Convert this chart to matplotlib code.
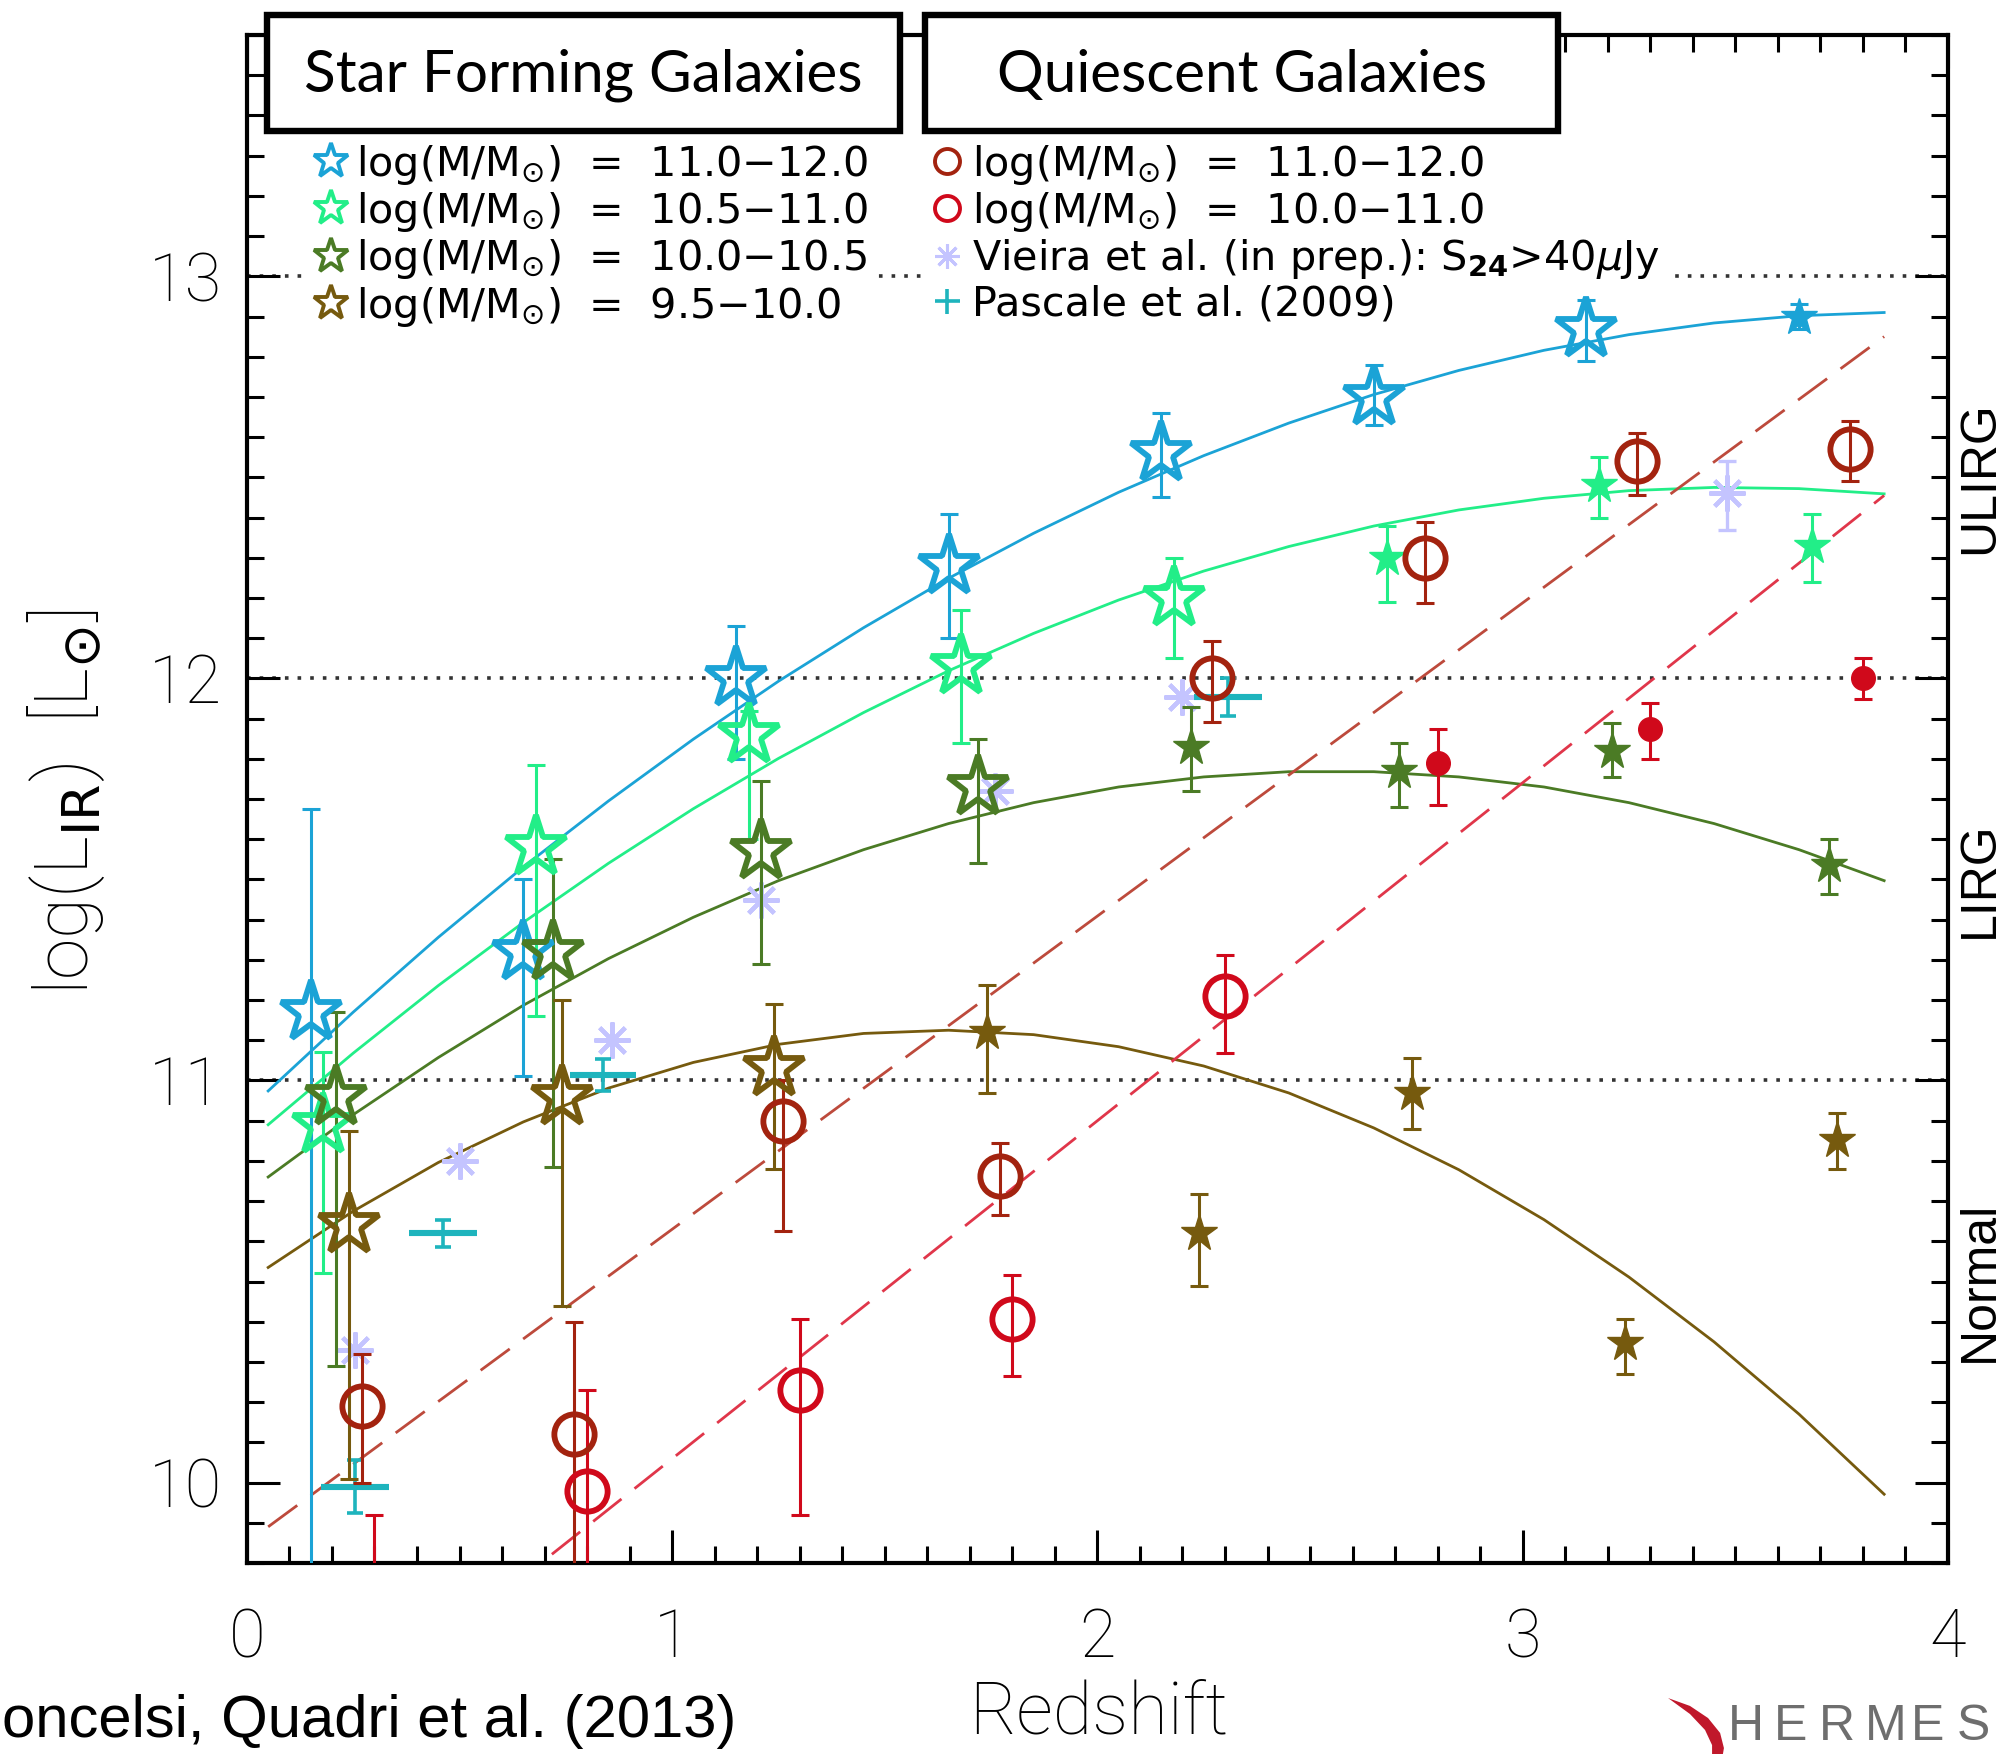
import numpy as np
import matplotlib
matplotlib.use("Agg")
import matplotlib.pyplot as plt
from matplotlib.lines import Line2D
from matplotlib.patches import Rectangle, Polygon
from matplotlib.transforms import blended_transform_factory

# Data
## Star forming, log(M/Msun) = 11.0-12.0
z_sf_a = [0.15, 0.65, 1.15, 1.65, 2.15, 2.65, 3.15, 3.65]
l_sf_a = [11.17, 11.32, 12.00, 12.28, 12.56, 12.70, 12.87, 12.90]
lo_sf_a = [9.00, 11.01, 11.80, 12.10, 12.45, 12.63, 12.79, 12.87]
hi_sf_a = [11.675, 11.50, 12.13, 12.41, 12.66, 12.78, 12.94, 12.93]
## Star forming, 10.5-11.0
z_sf_b = [0.18, 0.68, 1.18, 1.68, 2.18, 2.68, 3.18, 3.68]
l_sf_b = [10.89, 11.58, 11.86, 12.03, 12.20, 12.30, 12.48, 12.33]
lo_sf_b = [10.52, 11.16, 11.60, 11.84, 12.05, 12.19, 12.40, 12.24]
hi_sf_b = [11.07, 11.785, 11.92, 12.17, 12.30, 12.38, 12.55, 12.41]
## Star forming, 10.0-10.5
z_sf_c = [0.21, 0.72, 1.21, 1.72, 2.22, 2.71, 3.21, 3.72]
l_sf_c = [10.96, 11.32, 11.57, 11.73, 11.83, 11.77, 11.82, 11.535]
lo_sf_c = [10.29, 10.785, 11.29, 11.54, 11.72, 11.68, 11.756, 11.465]
hi_sf_c = [11.17, 11.55, 11.744, 11.85, 11.93, 11.84, 11.89, 11.60]
## Star forming, 9.5-10.0
z_sf_d = [0.24, 0.74, 1.24, 1.74, 2.24, 2.74, 3.24, 3.74]
l_sf_d = [10.64, 10.96, 11.03, 11.12, 10.62, 10.97, 10.347, 10.853]
lo_sf_d = [10.01, 10.44, 10.78, 10.97, 10.49, 10.88, 10.27, 10.78]
hi_sf_d = [10.875, 11.20, 11.19, 11.237, 10.717, 11.055, 10.408, 10.92]
## Quiescent, 11.0-12.0
z_q_a = [0.27, 0.77, 1.26, 1.77, 2.27, 2.77, 3.27, 3.77]
l_q_a = [10.19, 10.12, 10.90, 10.763, 12.00, 12.30, 12.54, 12.57]
lo_q_a = [10.00, 9.50, 10.625, 10.666, 11.892, 12.187, 12.455, 12.49]
hi_q_a = [10.32, 10.40, 11.00, 10.845, 12.092, 12.39, 12.61, 12.64]
## Quiescent, 10.0-11.0
z_q_b = [0.30, 0.80, 1.30, 1.80, 2.30, 2.80, 3.30, 3.80]
l_q_b = [9.55, 9.98, 10.23, 10.408, 11.21, 11.79, 11.875, 12.00]
lo_q_b = [9.20, 9.50, 9.92, 10.266, 11.069, 11.684, 11.80, 11.95]
hi_q_b = [9.92, 10.23, 10.408, 10.517, 11.313, 11.875, 11.94, 12.05]
## Vieira et al. (in prep.)
z_vieira = [0.255, 0.50, 0.858, 1.21, 1.76, 2.20, 3.48]
l_vieira = [10.33, 10.80, 11.10, 11.45, 11.72, 11.955, 12.46]
lo_vieira = [10.33, 10.80, 11.10, 11.45, 11.72, 11.955, 12.37]
hi_vieira = [10.33, 10.80, 11.10, 11.45, 11.72, 11.955, 12.54]
## Pascale et al. (2009)
z_pascale = [0.255, 0.46, 0.838, 2.308]
zerr_pascale = [0.08, 0.08, 0.078, 0.08]
l_pascale = [9.99, 10.62, 11.014, 11.953]
lerr_pascale = [0.065, 0.034, 0.04, 0.047]

## Fitted curves
z_fit = [0.05, 0.25, 0.45, 0.65, 0.85, 1.05, 1.25, 1.45, 1.65, 1.85,
         2.05, 2.25, 2.45, 2.65, 2.85, 3.05, 3.25, 3.45, 3.65, 3.85]
fit_sf_a = [10.974, 11.170, 11.356, 11.531, 11.695, 11.849, 11.993, 12.126, 12.249, 12.361,
            12.463, 12.554, 12.635, 12.706, 12.766, 12.816, 12.855, 12.884, 12.902, 12.910]
fit_sf_b = [10.890, 11.068, 11.236, 11.393, 11.540, 11.676, 11.801, 11.915, 12.019, 12.112,
            12.195, 12.267, 12.328, 12.379, 12.419, 12.448, 12.467, 12.475, 12.472, 12.459]
fit_sf_c = [10.760, 10.915, 11.057, 11.187, 11.303, 11.406, 11.497, 11.574, 11.639, 11.691,
            11.730, 11.755, 11.768, 11.768, 11.755, 11.730, 11.691, 11.639, 11.574, 11.497]
fit_sf_d = [10.535, 10.675, 10.796, 10.897, 10.981, 11.045, 11.090, 11.117, 11.125, 11.114,
            11.084, 11.036, 10.969, 10.882, 10.778, 10.654, 10.511, 10.350, 10.170, 9.971]
## Dashed quiescent trends
z_trend_a = [0.05, 3.85]
l_trend_a = [9.89, 12.85]
z_trend_b = [0.62, 3.85]
l_trend_b = [9.74, 12.455]

# Labels
sf_labels = ["11.0\u221212.0", "10.5\u221211.0", "10.0\u221210.5", "9.5\u221210.0"]
q_labels = ["11.0\u221212.0", "10.0\u221211.0"]

# Style
c_sf = ["#1ba3d6", "#22ee88", "#4b7b25", "#765a0e"]
c_q = ["#a3230f", "#d0091b"]
c_vieira = "#c4c4ff"
c_pascale = "#1eb4bd"
c_trend = ["#bd4a3c", "#e0364a"]

plt.rcParams["font.family"] = ["Roboto", "DejaVu Sans"]
fig = plt.figure(figsize=(10.045, 8.77), dpi=200)
ax = fig.add_axes([0.1229, 0.1089, 0.8467, 0.8711])

# Methods
def plot_series(z, l, lo, hi, color, marker, n_open, ms_open, ms_fill):
    z = np.asarray(z); l = np.asarray(l)
    yerr = [l - np.asarray(lo), np.asarray(hi) - l]
    ax.errorbar(z, l, yerr=yerr, fmt="none", ecolor=color, elinewidth=1.1,
                capsize=3.2, capthick=1.1, zorder=4)
    ax.plot(z[:n_open], l[:n_open], ls="none", marker=marker, ms=ms_open,
            mfc="none", mec=color, mew=2.1, zorder=5)
    ax.plot(z[n_open:], l[n_open:], ls="none", marker=marker, ms=ms_fill,
            mfc=color, mec=color, mew=0.5, zorder=5)

# Reference lines
for yv in (11, 12, 13):
    ax.axhline(yv, ls=(0, (1, 2.5)), lw=1.3, color="#333333", zorder=1)

# Fits
for fit, col in zip([fit_sf_a, fit_sf_b, fit_sf_c, fit_sf_d], c_sf):
    ax.plot(z_fit, fit, color=col, lw=1.0, zorder=3)
ax.plot(z_trend_a, l_trend_a, color=c_trend[0], lw=1.0, ls=(0, (13, 6)), zorder=3)
ax.plot(z_trend_b, l_trend_b, color=c_trend[1], lw=1.0, ls=(0, (13, 6)), zorder=3)

# Other surveys
zv = np.asarray(z_vieira); lv = np.asarray(l_vieira)
ax.plot(zv, lv, ls="none", marker=(8, 2, 0), ms=13, mec=c_vieira, mew=1.5, zorder=3.5)
has_err = np.asarray(hi_vieira) > lv
ax.errorbar(zv[has_err], lv[has_err],
            yerr=[lv[has_err] - np.asarray(lo_vieira)[has_err],
                  np.asarray(hi_vieira)[has_err] - lv[has_err]],
            fmt="none", ecolor=c_vieira, elinewidth=1.2, capsize=3.2, capthick=1.2, zorder=3.5)
ax.errorbar(z_pascale, l_pascale, xerr=zerr_pascale, fmt="none",
            ecolor=c_pascale, elinewidth=2.2, capsize=0, zorder=3.5)
ax.errorbar(z_pascale, l_pascale, yerr=lerr_pascale, fmt="none",
            ecolor=c_pascale, elinewidth=1.3, capsize=3.0, capthick=1.3, zorder=3.5)

# Main series
plot_series(z_sf_a, l_sf_a, lo_sf_a, hi_sf_a, c_sf[0], "*", 7, 23, 14)
plot_series(z_sf_b, l_sf_b, lo_sf_b, hi_sf_b, c_sf[1], "*", 5, 23, 14)
plot_series(z_sf_c, l_sf_c, lo_sf_c, hi_sf_c, c_sf[2], "*", 4, 23, 14)
plot_series(z_sf_d, l_sf_d, lo_sf_d, hi_sf_d, c_sf[3], "*", 3, 23, 14)
plot_series(z_q_a, l_q_a, lo_q_a, hi_q_a, c_q[0], "o", 8, 14.5, 8.5)
plot_series(z_q_b, l_q_b, lo_q_b, hi_q_b, c_q[1], "o", 5, 14.5, 8.5)

# Axes
ax.set_xlim(0, 4)
ax.set_ylim(9.8, 13.6)
ax.set_xticks([0, 1, 2, 3, 4])
ax.set_yticks([10, 11, 12, 13])
ax.set_xticks(np.arange(0, 4.01, 0.1), minor=True)
ax.set_yticks(np.arange(9.8, 13.61, 0.1), minor=True)
ax.tick_params(which="both", direction="in", top=True, right=True, width=1.1)
ax.tick_params(which="major", length=12)
ax.tick_params(which="minor", length=6)
ax.tick_params(axis="x", which="major", pad=16)
ax.tick_params(axis="y", which="major", pad=9)
for lab in ax.get_xticklabels() + ax.get_yticklabels():
    lab.set_fontsize(24)
    lab.set_fontweight("light")
for sp in ax.spines.values():
    sp.set_linewidth(1.5)

# Legends
lab_fmt = "log(M/M$_{{\\odot}}$)  =  {}"
legprop = {"family": "DejaVu Sans", "size": 14.9}
h_sf = [Line2D([], [], ls="none", marker="*", ms=13, mfc="none", mec=c, mew=1.4) for c in c_sf]
leg1 = ax.legend(h_sf, [lab_fmt.format(s) for s in sf_labels], loc="upper left",
                 bbox_to_anchor=(0.035, 0.935), prop=legprop, frameon=True,
                 facecolor="white", edgecolor="none", framealpha=1, fancybox=False,
                 handlelength=0.8, handletextpad=0.2, labelspacing=0.08,
                 borderpad=0.2, borderaxespad=0)
leg1.set_zorder(2.5)
ax.add_artist(leg1)
h_q = [Line2D([], [], ls="none", marker="o", ms=9, mfc="none", mec=c, mew=1.4) for c in c_q]
h_q.append(Line2D([], [], ls="none", marker=(8, 2, 0), ms=9, mec=c_vieira, mew=1.1))
h_q.append(Line2D([], [], ls="none", marker="+", ms=9, mec=c_pascale, mew=1.3))
q_texts = [lab_fmt.format(s) for s in q_labels] + [
    "Vieira et al. (in prep.): S$_{\\mathbf{24}}$>40$\\mu$Jy", "Pascale et al. (2009)"]
leg2 = ax.legend(h_q, q_texts, loc="upper left", bbox_to_anchor=(0.397, 0.935),
                 prop=legprop, frameon=True, facecolor="white", edgecolor="none",
                 framealpha=1, fancybox=False, handlelength=0.8, handletextpad=0.2,
                 labelspacing=0.08, borderpad=0.2, borderaxespad=0)
leg2.set_zorder(2.5)

# Regime labels on the right
tr = blended_transform_factory(ax.transAxes, ax.transData)
for txt, yv in [("ULIRG", 12.5), ("LIRG", 11.5), ("Normal", 10.5)]:
    ax.text(1.019, yv, txt, transform=tr, rotation=90, ha="center", va="center",
            fontsize=18, family=["Liberation Sans", "DejaVu Sans"], clip_on=False)

# Header boxes
for x0, title in [(0.1327, "Star Forming Galaxies"), (0.4605, "Quiescent Galaxies")]:
    fig.add_artist(Rectangle((x0, 0.9255), 0.3151, 0.0657, transform=fig.transFigure,
                             facecolor="white", edgecolor="black", lw=2.3, zorder=6))
    fig.text(x0 + 0.3151 / 2, 0.957, title, ha="center", va="center", fontsize=21,
             family=["Lato", "DejaVu Sans"], zorder=7)

# Axis titles and footer
fig.text(0.033, 0.543, "log(L$_{\\rm IR}$)  [L$_{\\odot}$]", rotation=90, ha="center",
         va="center", fontsize=27, fontweight="light")
fig.text(0.547, 0.003, "Redshift", ha="center", va="bottom", fontsize=26,
         fontweight="light")
fig.text(0.001, 0.003, "oncelsi, Quadri et al. (2013)", ha="left",
         va="bottom", fontsize=21.5, family=["Liberation Sans", "DejaVu Sans"])

# HERMES logo
swoosh = [(0.8303, 0.0319), (0.8412, 0.0274), (0.8502, 0.0205), (0.8562, 0.0120),
          (0.8581, 0.0034), (0.8571, -0.0034), (0.8522, -0.0034), (0.8522, 0.0051),
          (0.8487, 0.0137), (0.8412, 0.0228)]
fig.add_artist(Polygon(swoosh, closed=True, transform=fig.transFigure,
                       facecolor="#c0182b", edgecolor="none"))
for i, ch in enumerate("HERMES"):
    fig.text(0.8600 + i * 0.0228, 0.002, ch, ha="left", va="bottom", fontsize=18,
             color="#6e6e6e", family=["Liberation Sans", "DejaVu Sans"])

fig.savefig("out.png", dpi=200)
